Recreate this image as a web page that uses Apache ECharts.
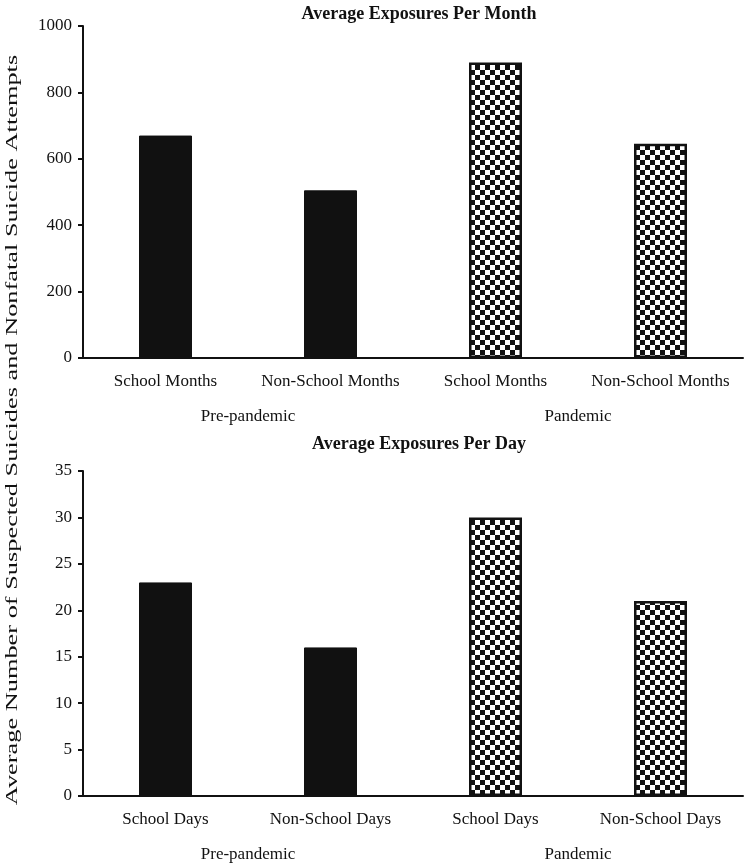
<!DOCTYPE html>
<html>
<head>
<meta charset="utf-8">
<script src="https://cdn.jsdelivr.net/npm/echarts@6/dist/echarts.min.js"></script>
<style>html,body{margin:0;padding:0;background:#fff;}#c{width:749px;height:863px;}</style>
</head>
<body>
<div id="c"></div>
<script>
const monthCategories = ['School Months', 'Non-School Months', 'School Months', 'Non-School Months'];
const monthValues = [670, 505, 890, 645];
const dayCategories = ['School Days', 'Non-School Days', 'School Days', 'Non-School Days'];
const dayValues = [23, 16, 30, 21];
const groupLabels = ['Pre-pandemic', 'Pandemic'];
const monthTicks = { min: 0, max: 1000, interval: 200 };
const dayTicks = { min: 0, max: 35, interval: 5 };
const titleMonth = 'Average Exposures Per Month';
const titleDay = 'Average Exposures Per Day';
const yTitle = 'Average Number of Suspected Suicides and Nonfatal Suicide Attempts';

// checker pattern
const pc = document.createElement('canvas');
pc.width = 10; pc.height = 10;
const ctx = pc.getContext('2d');
ctx.fillStyle = '#fff'; ctx.fillRect(0, 0, 10, 10);
ctx.fillStyle = '#111';
ctx.fillRect(0, 0, 5, 5);
ctx.fillRect(5, 5, 5, 5);

const FONT = '"Liberation Serif", "Times New Roman", serif';

function styled(vals) {
  return vals.map((v, i) => ({
    value: v,
    itemStyle: i < 2
      ? { color: '#111', borderColor: '#111', borderWidth: 1 }
      : { color: { image: pc, repeat: 'repeat' }, borderColor: '#111', borderWidth: 2.5 }
  }));
}

const chart = echarts.init(document.getElementById('c'), null, { renderer: 'canvas' });

const grids = [
  { left: 83, right: 6, top: 26, height: 332 },
  { left: 83, right: 6, top: 471, height: 334 }
];

function catAxis(gi, data) {
  return {
    type: 'category', gridIndex: gi, data: data, position: 'bottom',
    axisLine: { lineStyle: { color: '#111', width: 2 } },
    axisTick: { show: false },
    axisLabel: { color: '#111', fontFamily: FONT, fontSize: 17, margin: 15, interval: 0 }
  };
}
function groupAxis(gi) {
  return {
    type: 'category', gridIndex: gi, data: groupLabels, position: 'bottom', offset: 38,
    axisLine: { show: false }, axisTick: { show: false },
    axisLabel: { color: '#111', fontFamily: FONT, fontSize: 17, margin: 12, interval: 0 }
  };
}
function valAxis(gi, t) {
  return {
    type: 'value', gridIndex: gi, min: t.min, max: t.max, interval: t.interval,
    splitLine: { show: false },
    axisLine: { show: true, lineStyle: { color: '#111', width: 2 } },
    axisTick: { show: true, inside: false, length: 5, lineStyle: { color: '#111', width: 2 } },
    axisLabel: { color: '#111', fontFamily: FONT, fontSize: 17, margin: 11,
      formatter: function (v) { return String(v); } }
  };
}

chart.setOption({
  backgroundColor: '#fff',
  animation: false,
  title: [
    { text: titleMonth, left: 414, textAlign: 'center', top: 0,
      textStyle: { fontFamily: FONT, fontWeight: 'bold', fontSize: 18, color: '#111' } },
    { text: titleDay, left: 414, textAlign: 'center', top: 430,
      textStyle: { fontFamily: FONT, fontWeight: 'bold', fontSize: 18, color: '#111' } }
  ],
  grid: grids,
  xAxis: [catAxis(0, monthCategories), groupAxis(0), catAxis(1, dayCategories), groupAxis(1)],
  yAxis: [valAxis(0, monthTicks), valAxis(1, dayTicks)],
  series: [
    { type: 'bar', xAxisIndex: 0, yAxisIndex: 0, data: styled(monthValues), barWidth: 53 },
    { type: 'bar', xAxisIndex: 2, yAxisIndex: 1, data: styled(dayValues), barWidth: 53 }
  ],
  graphic: [
    { type: 'text', x: 13, y: 430, rotation: Math.PI / 2, scaleX: 1.55,
      style: { text: yTitle, fontFamily: FONT, fontSize: 17, fill: '#111',
        textAlign: 'center', textVerticalAlign: 'middle' } }
  ]
});
</script>
</body>
</html>
